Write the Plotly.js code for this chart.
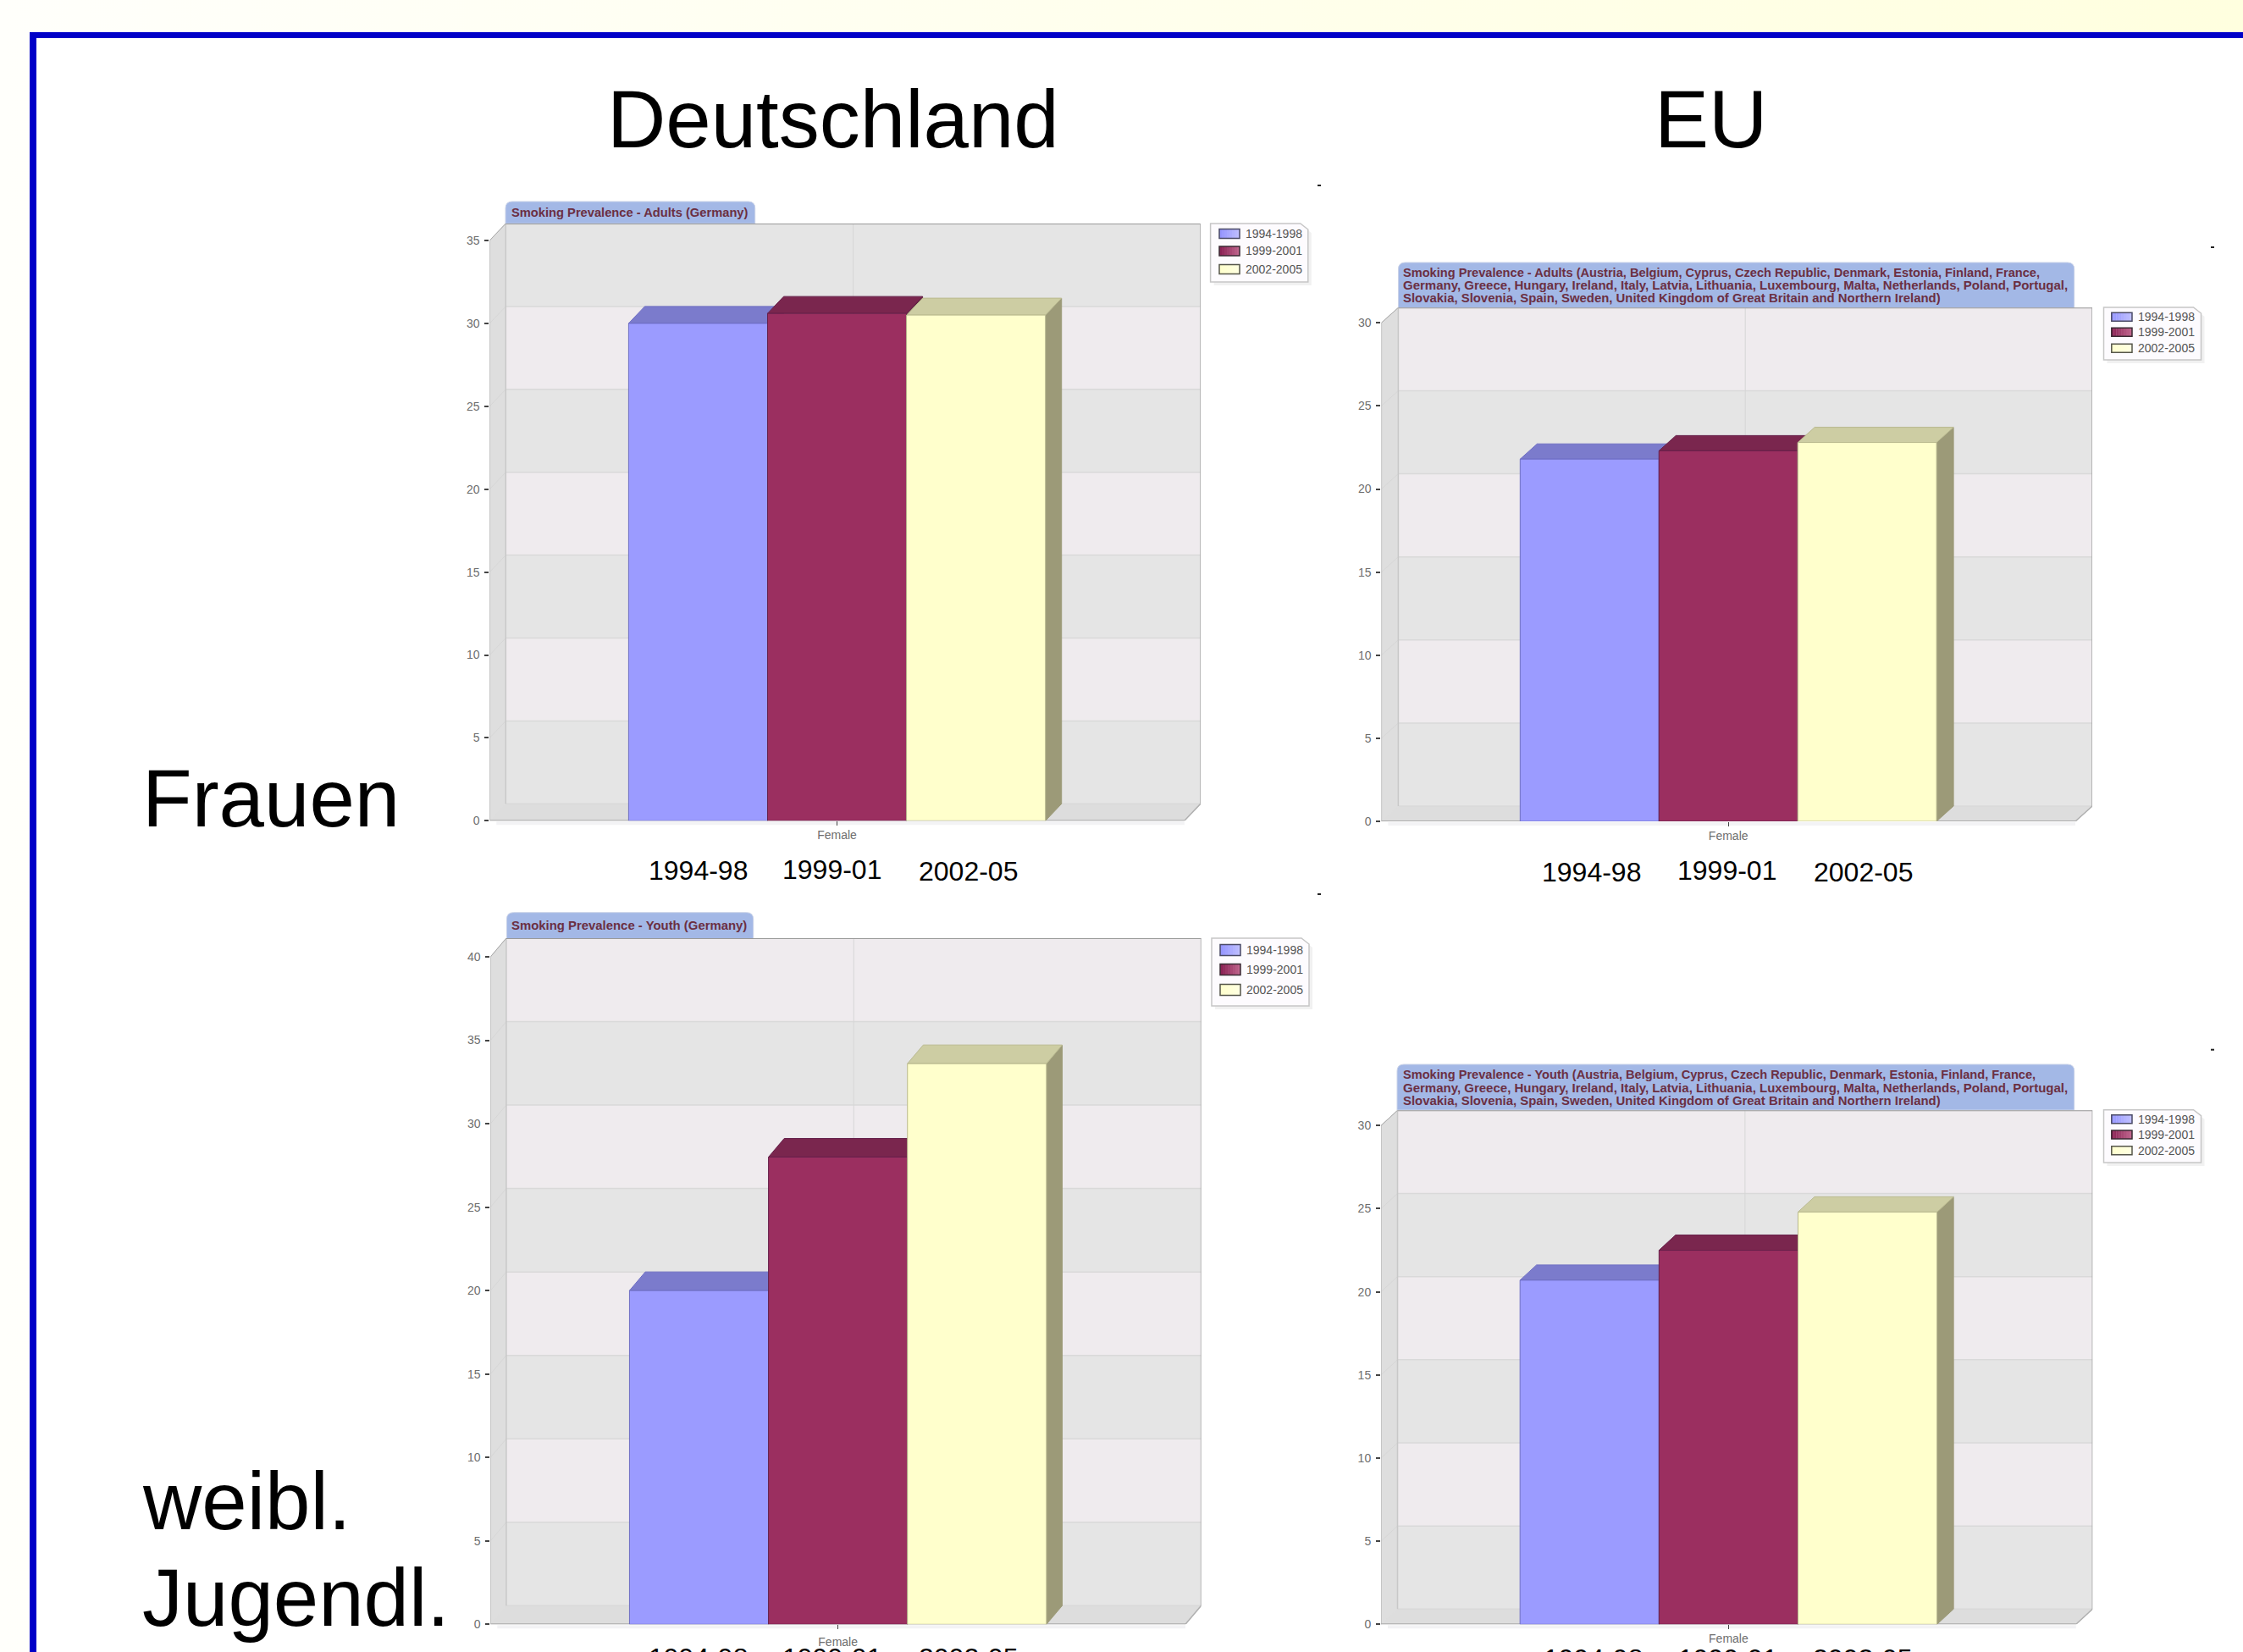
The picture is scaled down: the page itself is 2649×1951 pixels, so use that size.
<!DOCTYPE html>
<html>
<head>
<meta charset="utf-8">
<title>Rauchen: Deutschland und EU</title>
<script src="https://cdn.plot.ly/plotly-3.0.1.min.js"></script>
<style>
  html, body { margin: 0; padding: 0; width: 2649px; height: 1951px; overflow: hidden;
    background: linear-gradient(to right, #FFFFFB, #FFFFDF); }
</style>
</head>
<body>
<div id="chart" style="width:2649px;height:1951px"></div>
<script>
const categories = ['Female'];
const periods = ['1994-1998', '1999-2001', '2002-2005'];
const periodLabels = ['1994-98', '1999-01', '2002-05'];
const germanyAdults = [30.0, 30.6, 30.5];
const germanyYouth = [20.0, 28.0, 33.6];
const euAdults = [21.8, 22.3, 22.8];
const euYouth = [20.7, 22.5, 24.8];
const euCountriesLine1 = 'Austria, Belgium, Cyprus, Czech Republic, Denmark, Estonia, Finland, France,';
const euCountriesLine2 = 'Germany, Greece, Hungary, Ireland, Italy, Latvia, Lithuania, Luxembourg, Malta, Netherlands, Poland, Portugal,';
const euCountriesLine3 = 'Slovakia, Slovenia, Spain, Sweden, United Kingdom of Great Britain and Northern Ireland)';

const W = 2649, H = 1951;
const px = v => v / W;
const py = v => 1 - v / H;

const frontColors = ['#9B9BFF', '#9B2F60', '#FFFFCC'];
const edgeColors = ['#6F6FC4', '#66204A', '#B9B98F'];
const topColors = ['#7B7BCC', '#7A264E', '#CDCDA3'];
const sideColors = ['#5F5F9E', '#5E1D3A', '#9C9A78'];
const swatchLight = [[190, 190, 255], [190, 100, 140], [255, 255, 225]];
const swatchDark = [[150, 150, 255], [140, 35, 85], [255, 255, 205]];
const swatchBorder = ['#4A4A66', '#3A2A33', '#55554A'];

const panels = [
  { values: germanyAdults, axisMax: 35, left: 578.3, right: 1398.8, zero: 969.3, maxPx: 284, dx: 19, dy: 20, tickShift: -1,
    tab: [597, 891.7, 238, 264], title: ['Smoking Prevalence - Adults (Germany)'], titleSize: [14.7], titleX: 601.7, titleY: [251],
    legendBox: [1429.6, 1544.8, 264, 333], swatch: [1440, 1464, 11], itemY: [276, 296.5, 318], textX: 1469,
    dash: [1558, 219], labelX: [824, 982, 1143], labelY: [1028, 1027, 1029] },
  { values: germanyYouth, axisMax: 40, left: 579.3, right: 1400, zero: 1918.3, maxPx: 1130, dx: 18.6, dy: 22, tickShift: 3,
    tab: [598.4, 889.7, 1077.7, 1108.7], title: ['Smoking Prevalence - Youth (Germany)'], titleSize: [14.9], titleX: 602, titleY: [1093],
    legendBox: [1431, 1546, 1108, 1188], swatch: [1441, 1465, 13], itemY: [1122, 1145, 1169], textX: 1470,
    dash: [1558, 1056], labelX: [824, 982, 1143], labelY: [1958, 1958, 1958] },
  { values: euAdults, axisMax: 30, left: 1631.4, right: 2451, zero: 970, maxPx: 381.3, dx: 20, dy: 18, tickShift: -1,
    tab: [1651.5, 2449.7, 310, 364],
    title: ['Smoking Prevalence - Adults (' + euCountriesLine1, euCountriesLine2, euCountriesLine3], titleSize: [14.6, 15, 14.9],
    titleX: 1655, titleY: [321.7, 337, 352.3],
    legendBox: [2484.5, 2599.5, 363, 425], swatch: [2493.8, 2518, 10], itemY: [374.3, 392.3, 411.3], textX: 2522.6,
    dash: [2613, 292], labelX: [1880, 2039, 2200], labelY: [1030, 1028, 1030] },
  { values: euYouth, axisMax: 30, left: 1631, right: 2451.8, zero: 1918.3, maxPx: 1329.3, dx: 19.5, dy: 18, tickShift: -1,
    tab: [1650, 2449.7, 1257, 1311],
    title: ['Smoking Prevalence - Youth (' + euCountriesLine1, euCountriesLine2, euCountriesLine3], titleSize: [14.6, 15, 14.9],
    titleX: 1654.5, titleY: [1269, 1284, 1300],
    legendBox: [2484.5, 2599.5, 1310.7, 1373], swatch: [2493.8, 2518, 10], itemY: [1321.7, 1340, 1358.7], textX: 2522.6,
    dash: [2613, 1239.7], labelX: [1881, 2040, 2199], labelY: [1959, 1959, 1959] }
];

const bargap = 0.4;
const barWidth = (1 - bargap) / periods.length;

const traces = [];
const layoutAxes = {};
const shapes = [];
const annotations = [];

// Outer blue frame with white interior, running past the right and bottom edges.
shapes.push({ type: 'rect', xref: 'paper', yref: 'paper', layer: 'below',
  x0: px(35), x1: px(W + 40), y0: py(38), y1: py(H + 40), fillcolor: '#0000C8', line: { width: 0 } });
shapes.push({ type: 'rect', xref: 'paper', yref: 'paper', layer: 'below',
  x0: px(43), x1: px(W + 40), y0: py(45), y1: py(H + 40), fillcolor: '#FFFFFF', line: { width: 0 } });

function poly(pts) {
  return 'M' + pts.map(p => p[0] + ',' + p[1]).join('L') + 'Z';
}

function paperRect(x0, x1, y0, y1, fill, line) {
  shapes.push({ type: 'rect', xref: 'paper', yref: 'paper', layer: 'below',
    x0: px(x0), x1: px(x1), y0: py(y0), y1: py(y1), fillcolor: fill,
    line: line ? { color: line, width: 1.5 } : { width: 0 } });
}

function drawLegend(p) {
  const [bx0, bx1, by0, by1] = p.legendBox;
  const foldX = 9, foldY = 7;
  const outline = (ox, oy) => poly([[px(bx0 + ox), py(by0 + oy)], [px(bx1 - foldX + ox), py(by0 + oy)],
    [px(bx1 + ox), py(by0 + foldY + oy)], [px(bx1 + ox), py(by1 + oy)], [px(bx0 + ox), py(by1 + oy)]]);
  shapes.push({ type: 'path', xref: 'paper', yref: 'paper', layer: 'below', path: outline(4, 4),
    fillcolor: '#F1F1F1', line: { width: 0 } });
  shapes.push({ type: 'path', xref: 'paper', yref: 'paper', layer: 'below', path: outline(0, 0),
    fillcolor: '#FDFBFE', line: { color: '#C6C6C6', width: 1.5 } });
  const [sx0, sx1, sh] = p.swatch;
  const strips = 8;
  periods.forEach((name, k) => {
    const cy = p.itemY[k];
    for (let s = 0; s < strips; s++) {
      const t = s / (strips - 1);
      const c = swatchDark[k].map((d, ch) => Math.round(d + (swatchLight[k][ch] - d) * t));
      paperRect(sx0 + (sx1 - sx0) * s / strips, sx0 + (sx1 - sx0) * (s + 1) / strips,
        cy - sh / 2, cy + sh / 2, 'rgb(' + c.join(',') + ')');
    }
    paperRect(sx0, sx1, cy - sh / 2, cy + sh / 2, 'rgba(0,0,0,0)', swatchBorder[k]);
    annotations.push({ xref: 'paper', yref: 'paper', x: px(p.textX), y: py(cy), xanchor: 'left', yanchor: 'middle',
      showarrow: false, text: name, font: { family: 'Liberation Sans', size: 14, color: '#555555' } });
  });
}

panels.forEach((p, i) => {
  const n = i + 1;
  const base = i === 0 ? '' : String(n);
  const over = String(n + 4);
  const xName = 'x' + base, yName = 'y' + base;
  const unitX = p.right - p.left;
  const unitY = (p.zero - p.maxPx) / p.axisMax;
  const dx = p.dx / unitX;
  const dy = p.dy / unitY;
  const xMin = -0.5, xMax = 0.5;
  const xRange = [xMin, xMax + dx];
  const yRange = [0, p.axisMax + dy];
  const xDomain = [px(p.left), px(p.right + p.dx)];
  const yDomain = [py(p.zero), py(p.maxPx - p.dy)];

  const tickVals = [];
  for (let t = 0; t <= p.axisMax; t += 5) tickVals.push(t);

  layoutAxes['xaxis' + base] = {
    domain: xDomain, range: xRange, anchor: yName, showgrid: false, zeroline: false, showline: false,
    tickmode: 'array', tickvals: [0], ticktext: categories, ticks: 'outside', ticklen: 5, tickwidth: 1,
    ticklabelstandoff: p.tickShift,
    tickcolor: '#444444', tickfont: { family: 'Liberation Sans', size: 14, color: '#6E6E6E' }, fixedrange: true
  };
  layoutAxes['yaxis' + base] = {
    domain: yDomain, range: yRange, anchor: xName, showgrid: false, zeroline: false, showline: false,
    tickmode: 'array', tickvals: tickVals, ticks: 'outside', ticklen: 5, tickwidth: 1.5,
    ticklabelstandoff: 3,
    tickcolor: '#444444', tickfont: { family: 'Liberation Sans', size: 14, color: '#6E6E6E' }, fixedrange: true
  };
  layoutAxes['xaxis' + over] = { overlaying: xName, range: xRange, anchor: 'y' + over, visible: false, fixedrange: true };
  layoutAxes['yaxis' + over] = { overlaying: yName, range: yRange, anchor: 'x' + over, visible: false, fixedrange: true };

  const wall = (path, fill, lineColor, lineWidth) => shapes.push({
    type: 'path', xref: xName, yref: yName, layer: 'below', path,
    fillcolor: fill, line: { color: lineColor || fill, width: lineWidth === undefined ? 1 : lineWidth } });
  const edge = (x0, y0, x1, y1, color, width) => shapes.push({
    type: 'line', xref: xName, yref: yName, layer: 'below', x0, y0, x1, y1, line: { color, width } });

  // Soft shadow under the front edge of the floor.
  paperRect(p.left + 8, p.right, p.zero + 1, p.zero + 5, '#F3F3F5');

  // Side wall, floor and the banded back wall of the box.
  wall(poly([[xMin, 0], [xMin + dx, dy], [xMin + dx, p.axisMax + dy], [xMin, p.axisMax]]), '#DEDEDE');
  wall(poly([[xMin, 0], [xMax, 0], [xMax + dx, dy], [xMin + dx, dy]]), '#DDDDDD');
  tickVals.slice(0, -1).forEach((t, k) => {
    wall(poly([[xMin + dx, t + dy], [xMax + dx, t + dy], [xMax + dx, t + 5 + dy], [xMin + dx, t + 5 + dy]]),
      k % 2 === 0 ? '#E5E5E5' : '#EFEBEE', k % 2 === 0 ? '#E5E5E5' : '#EFEBEE', 0);
  });
  tickVals.forEach(t => {
    if (t < p.axisMax) edge(xMin + dx, t + dy, xMax + dx, t + dy, '#D9D9D9', 1.5);
    if (t > 0) edge(xMin, t, xMin + dx, t + dy, '#D6D6D6', 1);
  });
  edge(dx, dy, dx, p.axisMax + dy, '#D6D6D6', 1);
  edge(xMin + dx, dy, xMin + dx, p.axisMax + dy, '#C8C8C8', 1.5);
  edge(xMin, 0, xMin, p.axisMax, '#BDBDBD', 1.5);
  edge(xMin, p.axisMax, xMin + dx, p.axisMax + dy, '#A8A8A8', 1);
  edge(xMin + dx, p.axisMax + dy, xMax + dx, p.axisMax + dy, '#999999', 2);
  edge(xMax + dx, dy, xMax + dx, p.axisMax + dy, '#A6A6A6', 1.5);
  edge(xMax, 0, xMax + dx, dy, '#B0B0B0', 1.5);
  edge(xMin, 0, xMax, 0, '#ABABAB', 2);

  // Side and top faces of each bar sit on the base axes, the bar fronts on the overlay axes above them.
  p.values.forEach((v, k) => {
    const x0 = -1.5 * barWidth + k * barWidth, x1 = x0 + barWidth;
    traces.push({ type: 'scatter', mode: 'lines', xaxis: xName, yaxis: yName, showlegend: false, hoverinfo: 'skip',
      x: [x1, x1 + dx, x1 + dx, x1, x1], y: [0, dy, v + dy, v, 0],
      fill: 'toself', fillcolor: sideColors[k], line: { color: sideColors[k], width: 1 } });
    traces.push({ type: 'scatter', mode: 'lines', xaxis: xName, yaxis: yName, showlegend: false, hoverinfo: 'skip',
      x: [x0, x1, x1 + dx, x0 + dx, x0], y: [v, v, v + dy, v + dy, v],
      fill: 'toself', fillcolor: topColors[k], line: { color: edgeColors[k], width: 1 } });
  });
  p.values.forEach((v, k) => {
    traces.push({ type: 'bar', name: periods[k], x: [0], y: [v], xaxis: 'x' + over, yaxis: 'y' + over,
      showlegend: false,
      marker: { color: frontColors[k], line: { color: edgeColors[k], width: 1 } },
      hovertemplate: periods[k] + ': %{y}<extra></extra>' });
  });

  drawLegend(p);

  // Rounded title tab above the back wall.
  const [tx0, tx1, ty0, ty1] = p.tab;
  const r = 8;
  shapes.push({ type: 'path', xref: 'paper', yref: 'paper', layer: 'below', fillcolor: '#A3B8E6',
    line: { color: '#C9D2E8', width: 1 },
    path: 'M' + px(tx0) + ',' + py(ty1) + 'L' + px(tx0) + ',' + py(ty0 + r) +
      'Q' + px(tx0) + ',' + py(ty0) + ' ' + px(tx0 + r) + ',' + py(ty0) +
      'L' + px(tx1 - r) + ',' + py(ty0) + 'Q' + px(tx1) + ',' + py(ty0) + ' ' + px(tx1) + ',' + py(ty0 + r) +
      'L' + px(tx1) + ',' + py(ty1) + 'Z' });
  p.title.forEach((line, k) => annotations.push({
    xref: 'paper', yref: 'paper', x: px(p.titleX), y: py(p.titleY[k]), xanchor: 'left', yanchor: 'middle',
    showarrow: false, text: '<b>' + line + '</b>',
    font: { family: 'Liberation Sans', size: p.titleSize[k], color: '#6B2F42' } }));

  // Period captions under the bars.
  periodLabels.forEach((label, k) => annotations.push({
    xref: 'paper', yref: 'paper', x: px(p.labelX[k]), y: py(p.labelY[k]), xanchor: 'center', yanchor: 'middle',
    showarrow: false, text: label, font: { family: 'Liberation Sans', size: 32, color: '#000000' } }));

  // Small stray tick at the chart's top right corner.
  paperRect(p.dash[0] - 2, p.dash[0] + 2, p.dash[1] - 1, p.dash[1] + 1, '#222222');
});

// Column and row headings.
[['Deutschland', 984, 140, 'center'], ['EU', 2020, 140, 'center'],
 ['Frauen', 166, 942, 'left'], ['weibl.', 166, 1772, 'left'], ['Jugendl.', 166, 1886, 'left']
].forEach(([text, x, y, anchor]) => annotations.push({
  xref: 'paper', yref: 'paper', x: px(x), y: py(y), xanchor: anchor, yanchor: 'middle', showarrow: false, text,
  font: { family: 'Liberation Sans', size: 96, color: '#000000' } }));

const layout = Object.assign({
  width: W, height: H, margin: { l: 0, r: 0, t: 0, b: 0 },
  paper_bgcolor: 'rgba(0,0,0,0)', plot_bgcolor: 'rgba(0,0,0,0)',
  barmode: 'group', bargap, bargroupgap: 0, showlegend: false,
  shapes, annotations
}, layoutAxes);

Plotly.newPlot('chart', traces, layout, { displayModeBar: false });
</script>
</body>
</html>
